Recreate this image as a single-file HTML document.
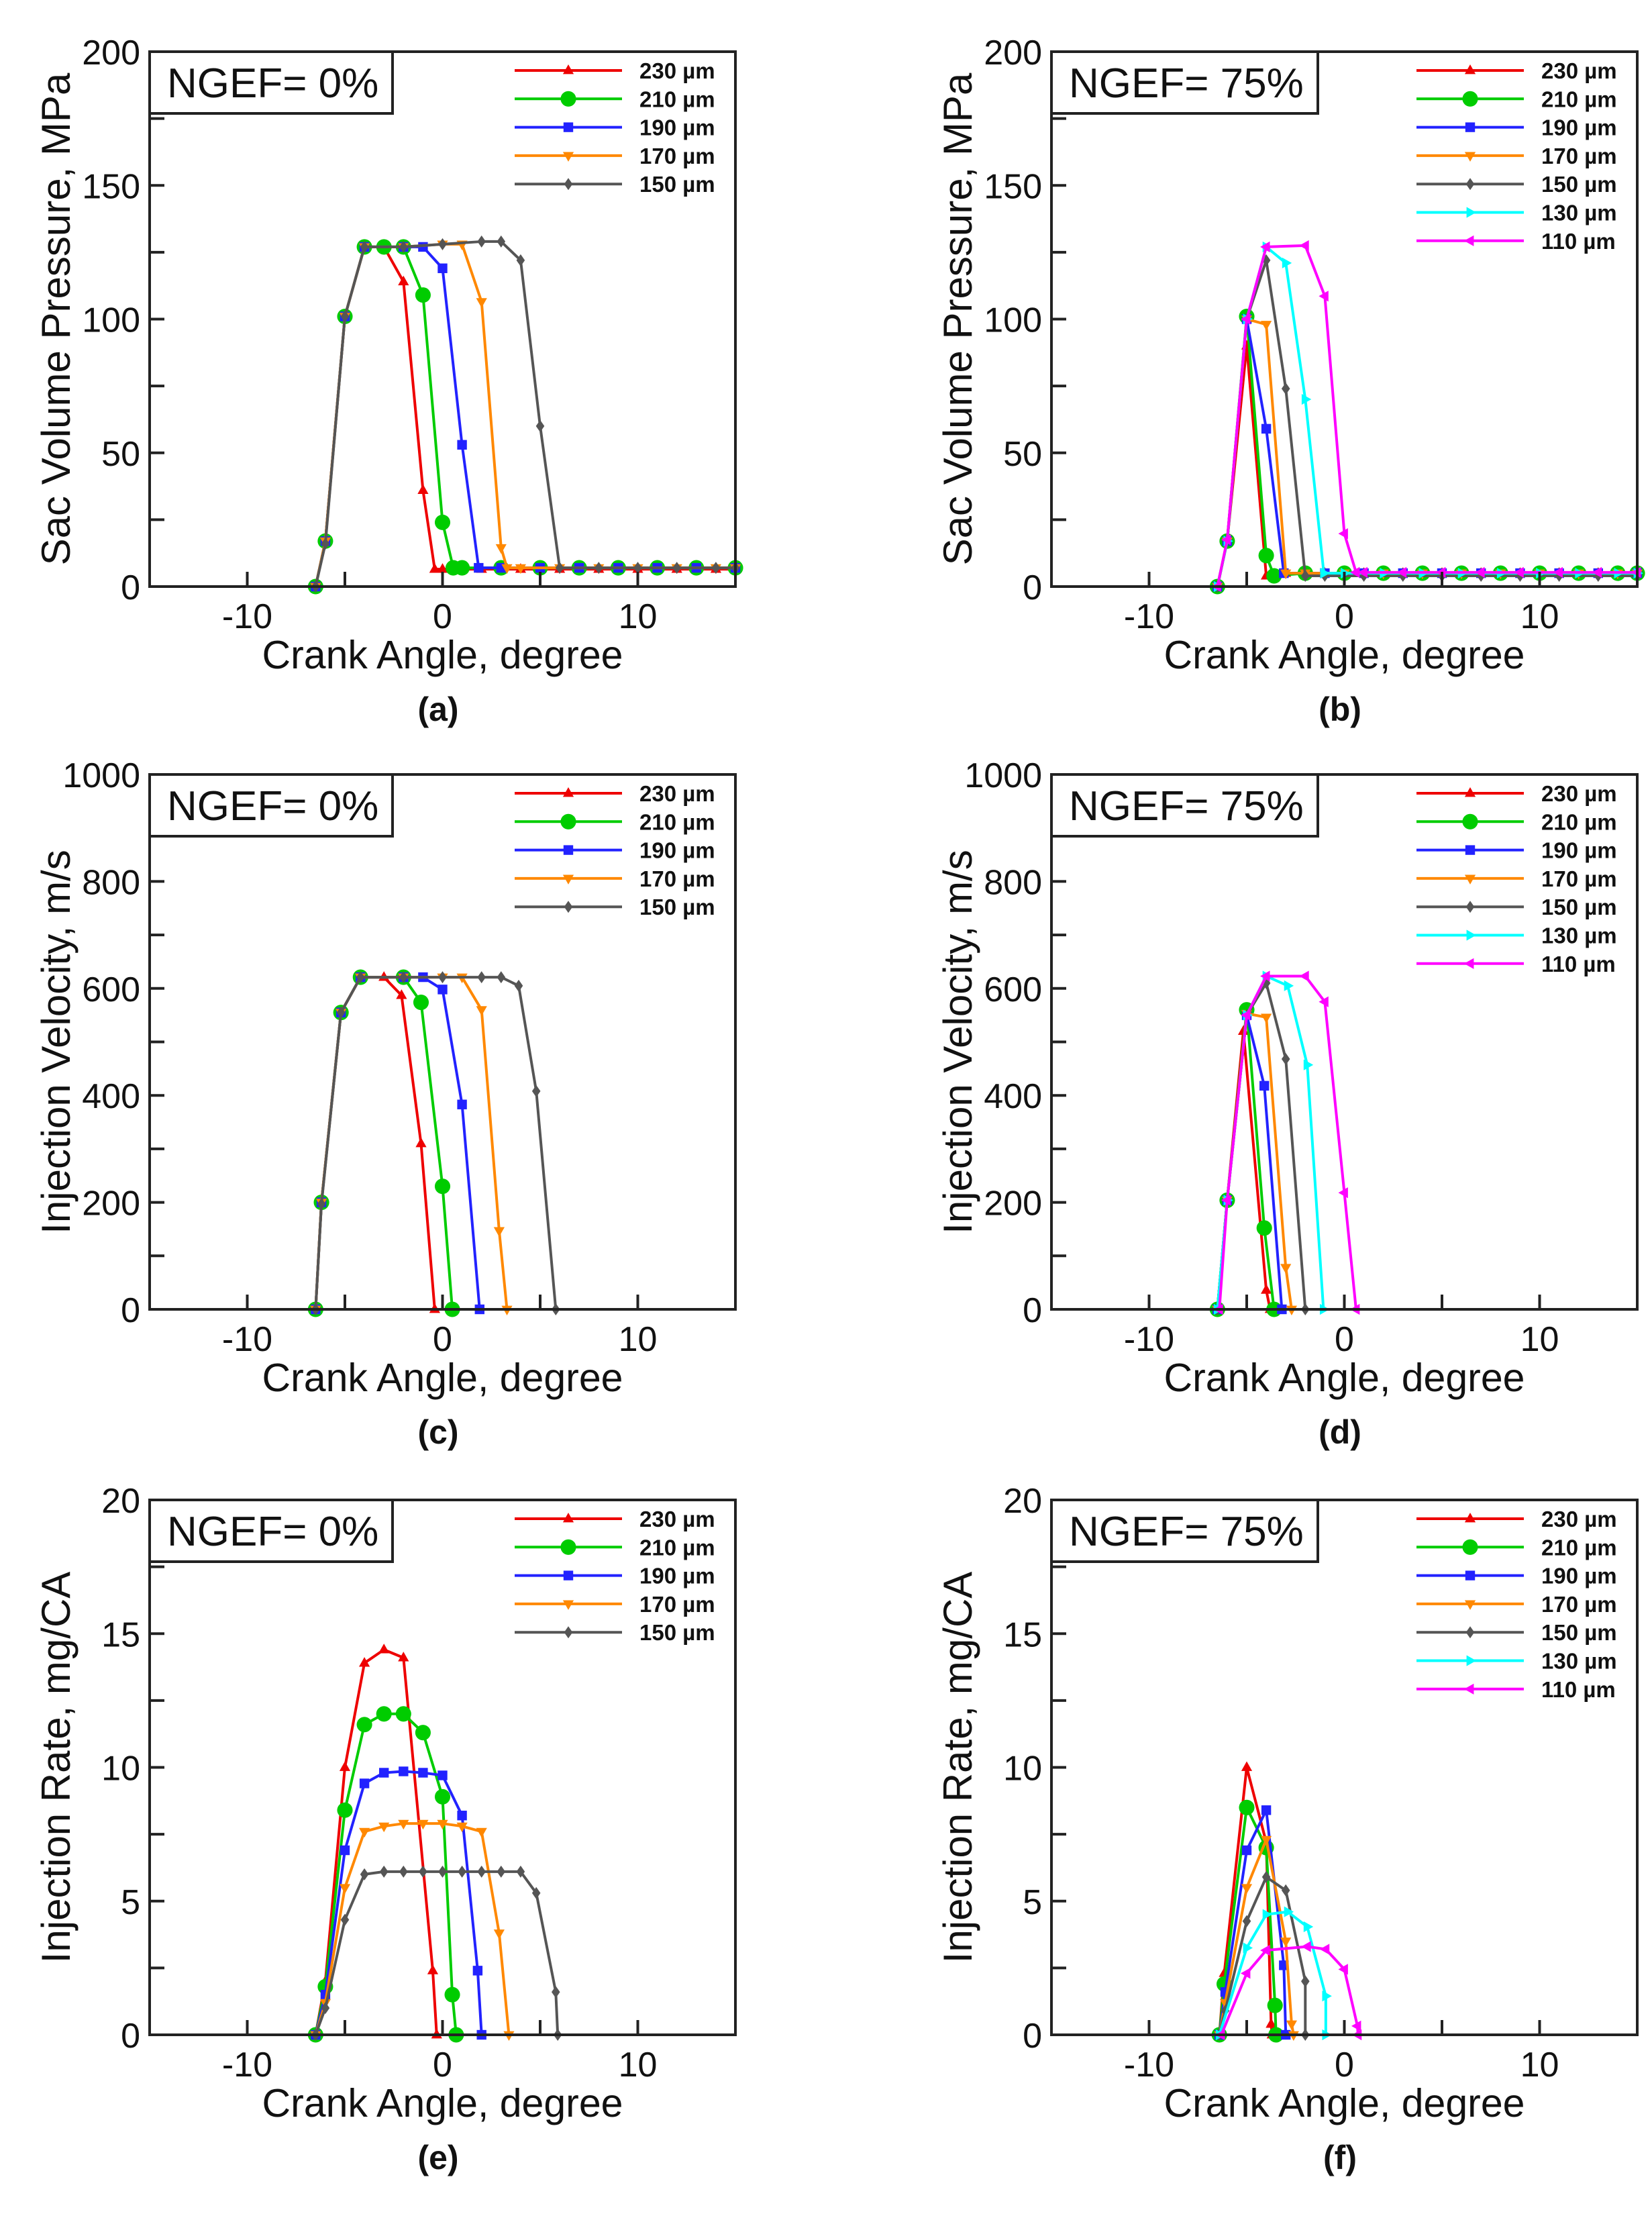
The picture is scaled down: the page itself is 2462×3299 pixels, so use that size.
<!DOCTYPE html>
<html><head><meta charset="utf-8"><style>
html,body{margin:0;padding:0;background:#fff;}
svg text{font-family:"Liberation Sans",Arial,sans-serif;}
</style></head><body>
<svg id="fig" xmlns="http://www.w3.org/2000/svg" width="2462" height="3294" viewBox="0 0 2462 3294"></svg>
<script>
// ---- data ----
const xTicks = [-10, 0, 10];
const xMinor = [-15,-10,-5,0,5,10,15];
const sizesA = ["230 µm","210 µm","190 µm","170 µm","150 µm"];
const sizesB = ["230 µm","210 µm","190 µm","170 µm","150 µm","130 µm","110 µm"];
const pressTicks = [0,50,100,150,200];
const velTicks = [0,200,400,600,800,1000];
const rateTicks = [0,5,10,15,20];

// (a) pressure NGEF 0%
const a230 = [[-6.5,0],[-6,17],[-5,101],[-4,127],[-3,127],[-2,114],[-1,36],[-0.4,6.5],[0,6.5],[2,6.5],[4,6.5],[6,6.5],[8,6.5],[10,6.5],[12,6.5],[14,6.5],[15,6.5]];
const a210 = [[-6.5,0],[-6,17],[-5,101],[-4,127],[-3,127],[-2,127],[-1,109],[0,24],[0.55,7],[1,7],[3,7],[5,7],[7,7],[9,7],[11,7],[13,7],[15,7]];
const a190 = [[-6.5,0],[-6,17],[-5,101],[-4,127],[-2,127],[-1,127],[0,119],[1,53],[1.85,7],[3,7],[5,7],[7,7],[9,7],[11,7],[13,7],[15,7]];
const a170 = [[-6.5,0],[-6,17],[-5,101],[-4,127],[-2,127],[0,128],[1,128],[2,106.5],[3,14.5],[3.3,7],[4,7],[6,7],[8,7],[10,7],[12,7],[14,7],[15,7]];
const a150 = [[-6.5,0],[-6,16],[-5,101],[-4,127],[-2,127],[0,128],[2,129],[3,129],[4,122],[5,60],[6,7],[8,7],[10,7],[12,7],[14,7],[15,7]];
// (b) pressure NGEF 75%
const b230 = [[-6.5,0],[-6,17],[-5,90],[-4,4],[-3,5],[-1,5],[1,5],[3,5],[5,5],[7,5],[9,5],[11,5],[13,5],[15,5]];
const b210 = [[-6.5,0],[-6,17],[-5,101],[-4,11.6],[-3.6,4],[-2,5],[0,5],[2,5],[4,5],[6,5],[8,5],[10,5],[12,5],[14,5],[15,5]];
const b190 = [[-6.5,0],[-6,17],[-5,100],[-4,59],[-3.1,5],[-1,5],[1,5],[3,5],[5,5],[7,5],[9,5],[11,5],[13,5],[15,5]];
const b170 = [[-6.5,0],[-6,17],[-5,100],[-4,98],[-3,5],[-2,5],[0,5],[2,5],[4,5],[6,5],[8,5],[10,5],[12,5],[14,5],[15,5]];
const b150 = [[-6.5,0],[-6,17],[-5,100],[-4,122],[-3,74],[-2,4],[-1,4],[1,4],[3,4],[5,4],[7,4],[9,4],[11,4],[13,4],[15,4]];
const b130 = [[-6.5,0],[-6,17],[-5,100],[-4,127],[-3,121],[-2,70],[-1.05,5],[0,5],[2,5],[4,5],[6,5],[8,5],[10,5],[12,5],[14,5],[15,5]];
const b110 = [[-6.5,0],[-6,17.5],[-5,100],[-4,127],[-2,127.5],[-1,108.6],[0,19.8],[0.6,5.3],[1,5.3],[3,5.3],[5,5.3],[7,5.3],[9,5.3],[11,5.3],[13,5.3],[15,5.3]];
// (c) velocity NGEF 0%
const c230 = [[-6.5,0],[-6.2,200],[-5.2,555],[-4.2,621],[-3,621],[-2.1,587],[-1.1,310],[-0.4,0]];
const c210 = [[-6.5,0],[-6.2,200],[-5.2,555],[-4.2,621],[-2,621],[-1.1,574],[0,230],[0.5,0]];
const c190 = [[-6.5,0],[-6.2,200],[-5.2,555],[-4.2,621],[-2,621],[-1,621],[0,598],[1,383],[1.9,0]];
const c170 = [[-6.5,0],[-6.2,200],[-5.2,555],[-4.2,621],[-2,621],[0,621],[1,621],[2,560],[2.9,147],[3.3,0]];
const c150 = [[-6.5,0],[-6.2,197],[-5.2,555],[-4.2,621],[-2,621],[0,621],[2,621],[3,621],[3.9,605],[4.8,408],[5.8,0]];
// (d) velocity NGEF 75%
const d230 = [[-6.5,0],[-6,204],[-5.17,520],[-4,36],[-3.8,0]];
const d210 = [[-6.5,0],[-6,204],[-5,560],[-4.1,152],[-3.6,0]];
const d190 = [[-6.5,0],[-6,204],[-5,550],[-4.1,418],[-3.2,0]];
const d170 = [[-6.5,0],[-6,204],[-5,553],[-4,546],[-3,78],[-2.7,0]];
const d150 = [[-6.5,0],[-6,204],[-5,550],[-4,610],[-3,468],[-2,0]];
const d130 = [[-6.5,0],[-6,204],[-5,550],[-4,623],[-2.9,605],[-1.9,457],[-1.07,0]];
const d110 = [[-6.4,0],[-6,204],[-5,550],[-4,623],[-2,623],[-1,575],[0,218],[0.6,0]];
// (e) rate NGEF 0%
const e230 = [[-6.5,0],[-6,2],[-5,10],[-4,13.9],[-3,14.4],[-2,14.1],[-0.5,2.4],[-0.3,0]];
const e210 = [[-6.5,0],[-6,1.8],[-5,8.4],[-4,11.6],[-3,12],[-2,12],[-1,11.3],[0,8.9],[0.5,1.5],[0.7,0]];
const e190 = [[-6.5,0],[-6,1.5],[-5,6.9],[-4,9.4],[-3,9.8],[-2,9.85],[-1,9.8],[0,9.7],[1,8.2],[1.8,2.4],[2,0]];
const e170 = [[-6.5,0],[-6,1.2],[-5,5.5],[-4,7.6],[-3,7.8],[-2,7.9],[-1,7.9],[0,7.9],[1,7.8],[2,7.6],[2.9,3.8],[3.4,0]];
const e150 = [[-6.5,0],[-6,1],[-5,4.3],[-4,6],[-3,6.1],[-2,6.1],[-1,6.1],[0,6.1],[1,6.1],[2,6.1],[3,6.1],[4,6.1],[4.8,5.3],[5.8,1.6],[5.9,0]];
// (f) rate NGEF 75%
const f230 = [[-6.4,0],[-6.15,2.3],[-5,10],[-4,7.2],[-3.75,0.4],[-3.7,0]];
const f210 = [[-6.4,0],[-6.15,1.9],[-5,8.5],[-4,7],[-3.55,1.1],[-3.5,0]];
const f190 = [[-6.4,0],[-6.1,1.6],[-5,6.9],[-4,8.4],[-3.1,2.6],[-3,0]];
const f170 = [[-6.4,0],[-6.1,1.2],[-5,5.5],[-4,7.3],[-3,3.5],[-2.7,0.4],[-2.6,0]];
const f150 = [[-6.4,0],[-6.1,0.9],[-5,4.25],[-4,5.9],[-3,5.4],[-2,2],[-2,0]];
const f130 = [[-6.4,0],[-5,3.25],[-4,4.5],[-2.9,4.6],[-1.9,4.04],[-0.95,1.45],[-0.95,0]];
const f110 = [[-6.3,0],[-5,2.3],[-4,3.16],[-1.9,3.3],[-0.95,3.2],[0,2.45],[0.67,0.33],[0.7,0]];

// ---- styles ----
const colors = ["#ee0000","#00cc00","#2222ff","#ff8800","#555555","#00ffff","#ff00ff"];
const markers = ["tri","circle","square","tridown","diamond","triright","trileft"];
const NS = "http://www.w3.org/2000/svg";
const svg = document.getElementById("fig");
function mk(tag, attrs, parent){
  const e = document.createElementNS(NS, tag);
  for (const k in attrs) e.setAttribute(k, attrs[k]);
  (parent||svg).appendChild(e); return e;
}
function marker(g, type, x, y, col, s){
  let e;
  if (type==="circle"){ e = mk("circle",{cx:x,cy:y,r:s*1.05,fill:col},g); }
  else if (type==="square"){ e = mk("rect",{x:x-s*0.8,y:y-s*0.8,width:s*1.6,height:s*1.6,fill:col},g); }
  else {
    let p;
    if (type==="tri") p=[[0,-s],[s*0.9,s*0.6],[-s*0.9,s*0.6]];
    else if (type==="tridown") p=[[0,s],[s*0.9,-s*0.6],[-s*0.9,-s*0.6]];
    else if (type==="diamond") p=[[0,-s],[s*0.7,0],[0,s],[-s*0.7,0]];
    else if (type==="triright") p=[[s,0],[-s*0.6,-s*0.9],[-s*0.6,s*0.9]];
    else p=[[-s,0],[s*0.6,-s*0.9],[s*0.6,s*0.9]];
    e = mk("polygon",{points:p.map(q=>(x+q[0])+","+(y+q[1])).join(" "),fill:col},g);
  }
  
  
}

const PW = 873, PH = 797;
function panel(opt){
  const L = opt.left, T = opt.top, B = T+PH, R = L+PW;
  const g = mk("g",{});
  
  
  const xs = v => L + (v+15)/30*PW;
  const ys = v => B - v/opt.ymax*PH;
  // series
  opt.series.forEach((d,i)=>{
    const sg = mk("g",{},g);
    
    
    const pl = mk("polyline",{points:d.map(p=>xs(p[0])+","+ys(p[1])).join(" "),fill:"none",stroke:colors[i],"stroke-width":4,"stroke-linejoin":"round"},sg);
    
    
    d.forEach(p=>marker(sg, markers[i], xs(p[0]), ys(p[1]), colors[i], i===1?11:9));
  });
  // frame
  const fr = mk("rect",{x:L,y:T,width:PW,height:PH,fill:"none",stroke:"#222","stroke-width":4},g);
  
  
  // x ticks
  xMinor.forEach(v=>{
    const t = mk("line",{x1:xs(v),x2:xs(v),y1:B,y2:B-22,stroke:"#222","stroke-width":4},g);
    
    
  });
  xTicks.forEach(v=>{
    const t = mk("text",{x:xs(v),y:B+62,"font-size":52,"text-anchor":"middle",fill:"#111"},g);
    t.textContent = v;
    
    
  });
  // y ticks
  const step = opt.yticks[1]-opt.yticks[0];
  for (let v=0; v<=opt.ymax+1e-9; v+=step/2){
    const t = mk("line",{x1:L,x2:L+22,y1:ys(v),y2:ys(v),stroke:"#222","stroke-width":4},g);
    
    
  }
  opt.yticks.forEach(v=>{
    const t = mk("text",{x:L-14,y:ys(v)+19,"font-size":52,"text-anchor":"end",fill:"#111"},g);
    t.textContent = v;
    
    
  });
  // axis titles
  const xt = mk("text",{x:L+PW/2,y:B+122,"font-size":59,"text-anchor":"middle",fill:"#111"},g);
  xt.textContent = "Crank Angle, degree";
  
  
  const yx = L-140, yy = T+PH/2;
  const yt = mk("text",{x:yx,y:yy,"font-size":60,"text-anchor":"middle",fill:"#111",transform:`rotate(-90 ${yx} ${yy}) translate(0 21)`},g);
  yt.textContent = opt.ytitle;
  
  
  // NGEF box
  const bw = opt.ngef==="0%"?362:397;
  const bx = mk("rect",{x:L,y:T,width:bw,height:92,fill:"#fff",stroke:"#222","stroke-width":4},g);
  
  
  const bt = mk("text",{x:L+26,y:T+68,"font-size":62,fill:"#111"},g);
  bt.textContent = "NGEF= "+opt.ngef;
  
  
  // legend
  opt.labels.forEach((lab,i)=>{
    const ly = T+28+i*42.3;
    const lg = mk("g",{},g);
    
    
    mk("line",{x1:L+544,x2:L+704,y1:ly,y2:ly,stroke:colors[i],"stroke-width":4},lg);
    marker(lg, markers[i], L+624, ly, colors[i], i===1?11:9);
    const tx = mk("text",{x:L+730,y:ly+12,"font-size":33,"font-weight":"bold",fill:"#111"},lg);
    tx.textContent = lab;
  });
  // panel letter
  const pl = mk("text",{x:L+430,y:B+200,"font-size":50,"font-weight":"bold","text-anchor":"middle",fill:"#111"},g);
  pl.textContent = "("+opt.letter+")";
  
  
}

const LA = 223, LB = 1567;
const rows = [77, 1154, 2235];
panel({name:"panel-a",left:LA,top:rows[0],ymax:200,yticks:pressTicks,ytitle:"Sac Volume Pressure, MPa",ngef:"0%",labels:sizesA,series:[a230,a210,a190,a170,a150],letter:"a"});
panel({name:"panel-b",left:LB,top:rows[0],ymax:200,yticks:pressTicks,ytitle:"Sac Volume Pressure, MPa",ngef:"75%",labels:sizesB,series:[b230,b210,b190,b170,b150,b130,b110],letter:"b"});
panel({name:"panel-c",left:LA,top:rows[1],ymax:1000,yticks:velTicks,ytitle:"Injection Velocity, m/s",ngef:"0%",labels:sizesA,series:[c230,c210,c190,c170,c150],letter:"c"});
panel({name:"panel-d",left:LB,top:rows[1],ymax:1000,yticks:velTicks,ytitle:"Injection Velocity, m/s",ngef:"75%",labels:sizesB,series:[d230,d210,d190,d170,d150,d130,d110],letter:"d"});
panel({name:"panel-e",left:LA,top:rows[2],ymax:20,yticks:rateTicks,ytitle:"Injection Rate, mg/CA",ngef:"0%",labels:sizesA,series:[e230,e210,e190,e170,e150],letter:"e"});
panel({name:"panel-f",left:LB,top:rows[2],ymax:20,yticks:rateTicks,ytitle:"Injection Rate, mg/CA",ngef:"75%",labels:sizesB,series:[f230,f210,f190,f170,f150,f130,f110],letter:"f"});
</script>
</body></html>
